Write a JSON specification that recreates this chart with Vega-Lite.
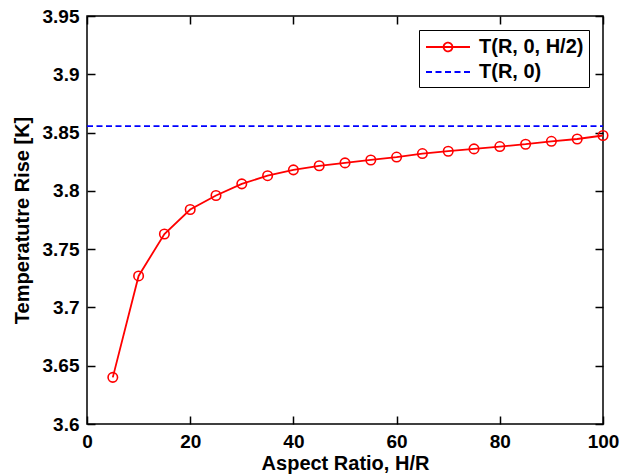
{
  "$schema": "https://vega.github.io/schema/vega-lite/v6.json",
  "width": 516,
  "height": 408,
  "autosize": {"type": "none"},
  "padding": {"left": 87, "top": 16, "right": 28, "bottom": 50},
  "background": "white",
  "config": {
    "font": "Liberation Sans",
    "view": {"stroke": "black", "strokeWidth": 1.5},
    "axis": {
      "domain": false,
      "grid": false,
      "labelFlush": false,
      "tickColor": "black",
      "tickSize": -8,
      "tickWidth": 1.5,
      "labelFont": "Liberation Sans",
      "labelFontSize": 19,
      "labelFontWeight": "bold",
      "labelColor": "black",
      "titleFont": "Liberation Sans",
      "titleFontSize": 20,
      "titleFontWeight": "bold",
      "titleColor": "black"
    }
  },
  "data": {
    "values": [
      {"ratio": 5, "rise": 3.640, "series": "T(R, 0, H/2)"},
      {"ratio": 10, "rise": 3.727, "series": "T(R, 0, H/2)"},
      {"ratio": 15, "rise": 3.763, "series": "T(R, 0, H/2)"},
      {"ratio": 20, "rise": 3.784, "series": "T(R, 0, H/2)"},
      {"ratio": 25, "rise": 3.796, "series": "T(R, 0, H/2)"},
      {"ratio": 30, "rise": 3.806, "series": "T(R, 0, H/2)"},
      {"ratio": 35, "rise": 3.813, "series": "T(R, 0, H/2)"},
      {"ratio": 40, "rise": 3.818, "series": "T(R, 0, H/2)"},
      {"ratio": 45, "rise": 3.8215, "series": "T(R, 0, H/2)"},
      {"ratio": 50, "rise": 3.824, "series": "T(R, 0, H/2)"},
      {"ratio": 55, "rise": 3.8265, "series": "T(R, 0, H/2)"},
      {"ratio": 60, "rise": 3.829, "series": "T(R, 0, H/2)"},
      {"ratio": 65, "rise": 3.832, "series": "T(R, 0, H/2)"},
      {"ratio": 70, "rise": 3.834, "series": "T(R, 0, H/2)"},
      {"ratio": 75, "rise": 3.836, "series": "T(R, 0, H/2)"},
      {"ratio": 80, "rise": 3.838, "series": "T(R, 0, H/2)"},
      {"ratio": 85, "rise": 3.840, "series": "T(R, 0, H/2)"},
      {"ratio": 90, "rise": 3.8425, "series": "T(R, 0, H/2)"},
      {"ratio": 95, "rise": 3.8445, "series": "T(R, 0, H/2)"},
      {"ratio": 100, "rise": 3.8475, "series": "T(R, 0, H/2)"},
      {"ratio": 0, "rise": 3.8555, "series": "T(R, 0)"},
      {"ratio": 100, "rise": 3.8555, "series": "T(R, 0)"}
    ]
  },
  "layer": [
    {
      "transform": [{"filter": "datum.series === 'T(R, 0, H/2)'"}],
      "mark": {"type": "line", "strokeWidth": 1.8},
      "encoding": {
        "x": {
          "field": "ratio",
          "type": "quantitative",
          "scale": {"domain": [0, 100], "nice": false},
          "axis": {
            "orient": "bottom",
            "values": [0, 20, 40, 60, 80, 100],
            "title": "Aspect Ratio, H/R",
            "labelPadding": 16,
            "titlePadding": 2
          }
        },
        "y": {
          "field": "rise",
          "type": "quantitative",
          "scale": {"domain": [3.6, 3.95], "zero": false, "nice": false},
          "axis": {
            "orient": "left",
            "values": [3.6, 3.65, 3.7, 3.75, 3.8, 3.85, 3.9, 3.95],
            "format": ".2~f",
            "title": "Temperatutre Rise [K]",
            "labelPadding": 16,
            "titlePadding": 10
          }
        },
        "color": {
          "field": "series",
          "type": "nominal",
          "scale": {"domain": ["T(R, 0, H/2)", "T(R, 0)"], "range": ["#ff0000", "#0000ff"]},
          "legend": {
            "title": null,
            "orient": "top-right",
            "offset": 14,
            "strokeColor": "black",
            "fillColor": "white",
            "padding": 5,
            "labelFont": "Liberation Sans",
            "labelFontSize": 20,
            "labelFontWeight": "bold",
            "labelColor": "black",
            "labelOffset": 19,
            "symbolOffset": 12,
            "symbolSize": 484,
            "symbolStrokeWidth": 1.8,
            "rowPadding": 3,
            "encode": {
              "symbols": {
                "update": {
                  "shape": {"signal": "datum.value === 'T(R, 0)' ? 'M-2,0H2' : 'M-2,0H2M-0.4,0A0.4,0.4 0 1,1 0.4,0A0.4,0.4 0 1,1 -0.4,0'"},
                  "strokeDash": {"signal": "datum.value === 'T(R, 0)' ? [6, 3.5] : [1, 0]"},
                  "fill": {"value": "transparent"}
                }
              }
            }
          }
        }
      }
    },
    {
      "transform": [{"filter": "datum.series === 'T(R, 0)'"}],
      "mark": {"type": "line", "strokeWidth": 1.8, "strokeDash": [6, 3.5]},
      "encoding": {
        "x": {"field": "ratio", "type": "quantitative", "axis": null},
        "y": {"field": "rise", "type": "quantitative", "axis": null},
        "color": {"field": "series", "type": "nominal"}
      }
    },
    {
      "transform": [{"filter": "datum.series === 'T(R, 0, H/2)'"}],
      "mark": {"type": "point", "shape": "circle", "filled": false, "size": 90, "strokeWidth": 1.6, "color": "#ff0000", "opacity": 1},
      "encoding": {
        "x": {
          "field": "ratio",
          "type": "quantitative",
          "axis": {"orient": "top", "values": [0, 20, 40, 60, 80, 100], "labels": false, "title": null}
        },
        "y": {
          "field": "rise",
          "type": "quantitative",
          "axis": {"orient": "right", "values": [3.6, 3.65, 3.7, 3.75, 3.8, 3.85, 3.9, 3.95], "labels": false, "title": null}
        }
      }
    }
  ],
  "resolve": {"axis": {"x": "independent", "y": "independent"}}
}
